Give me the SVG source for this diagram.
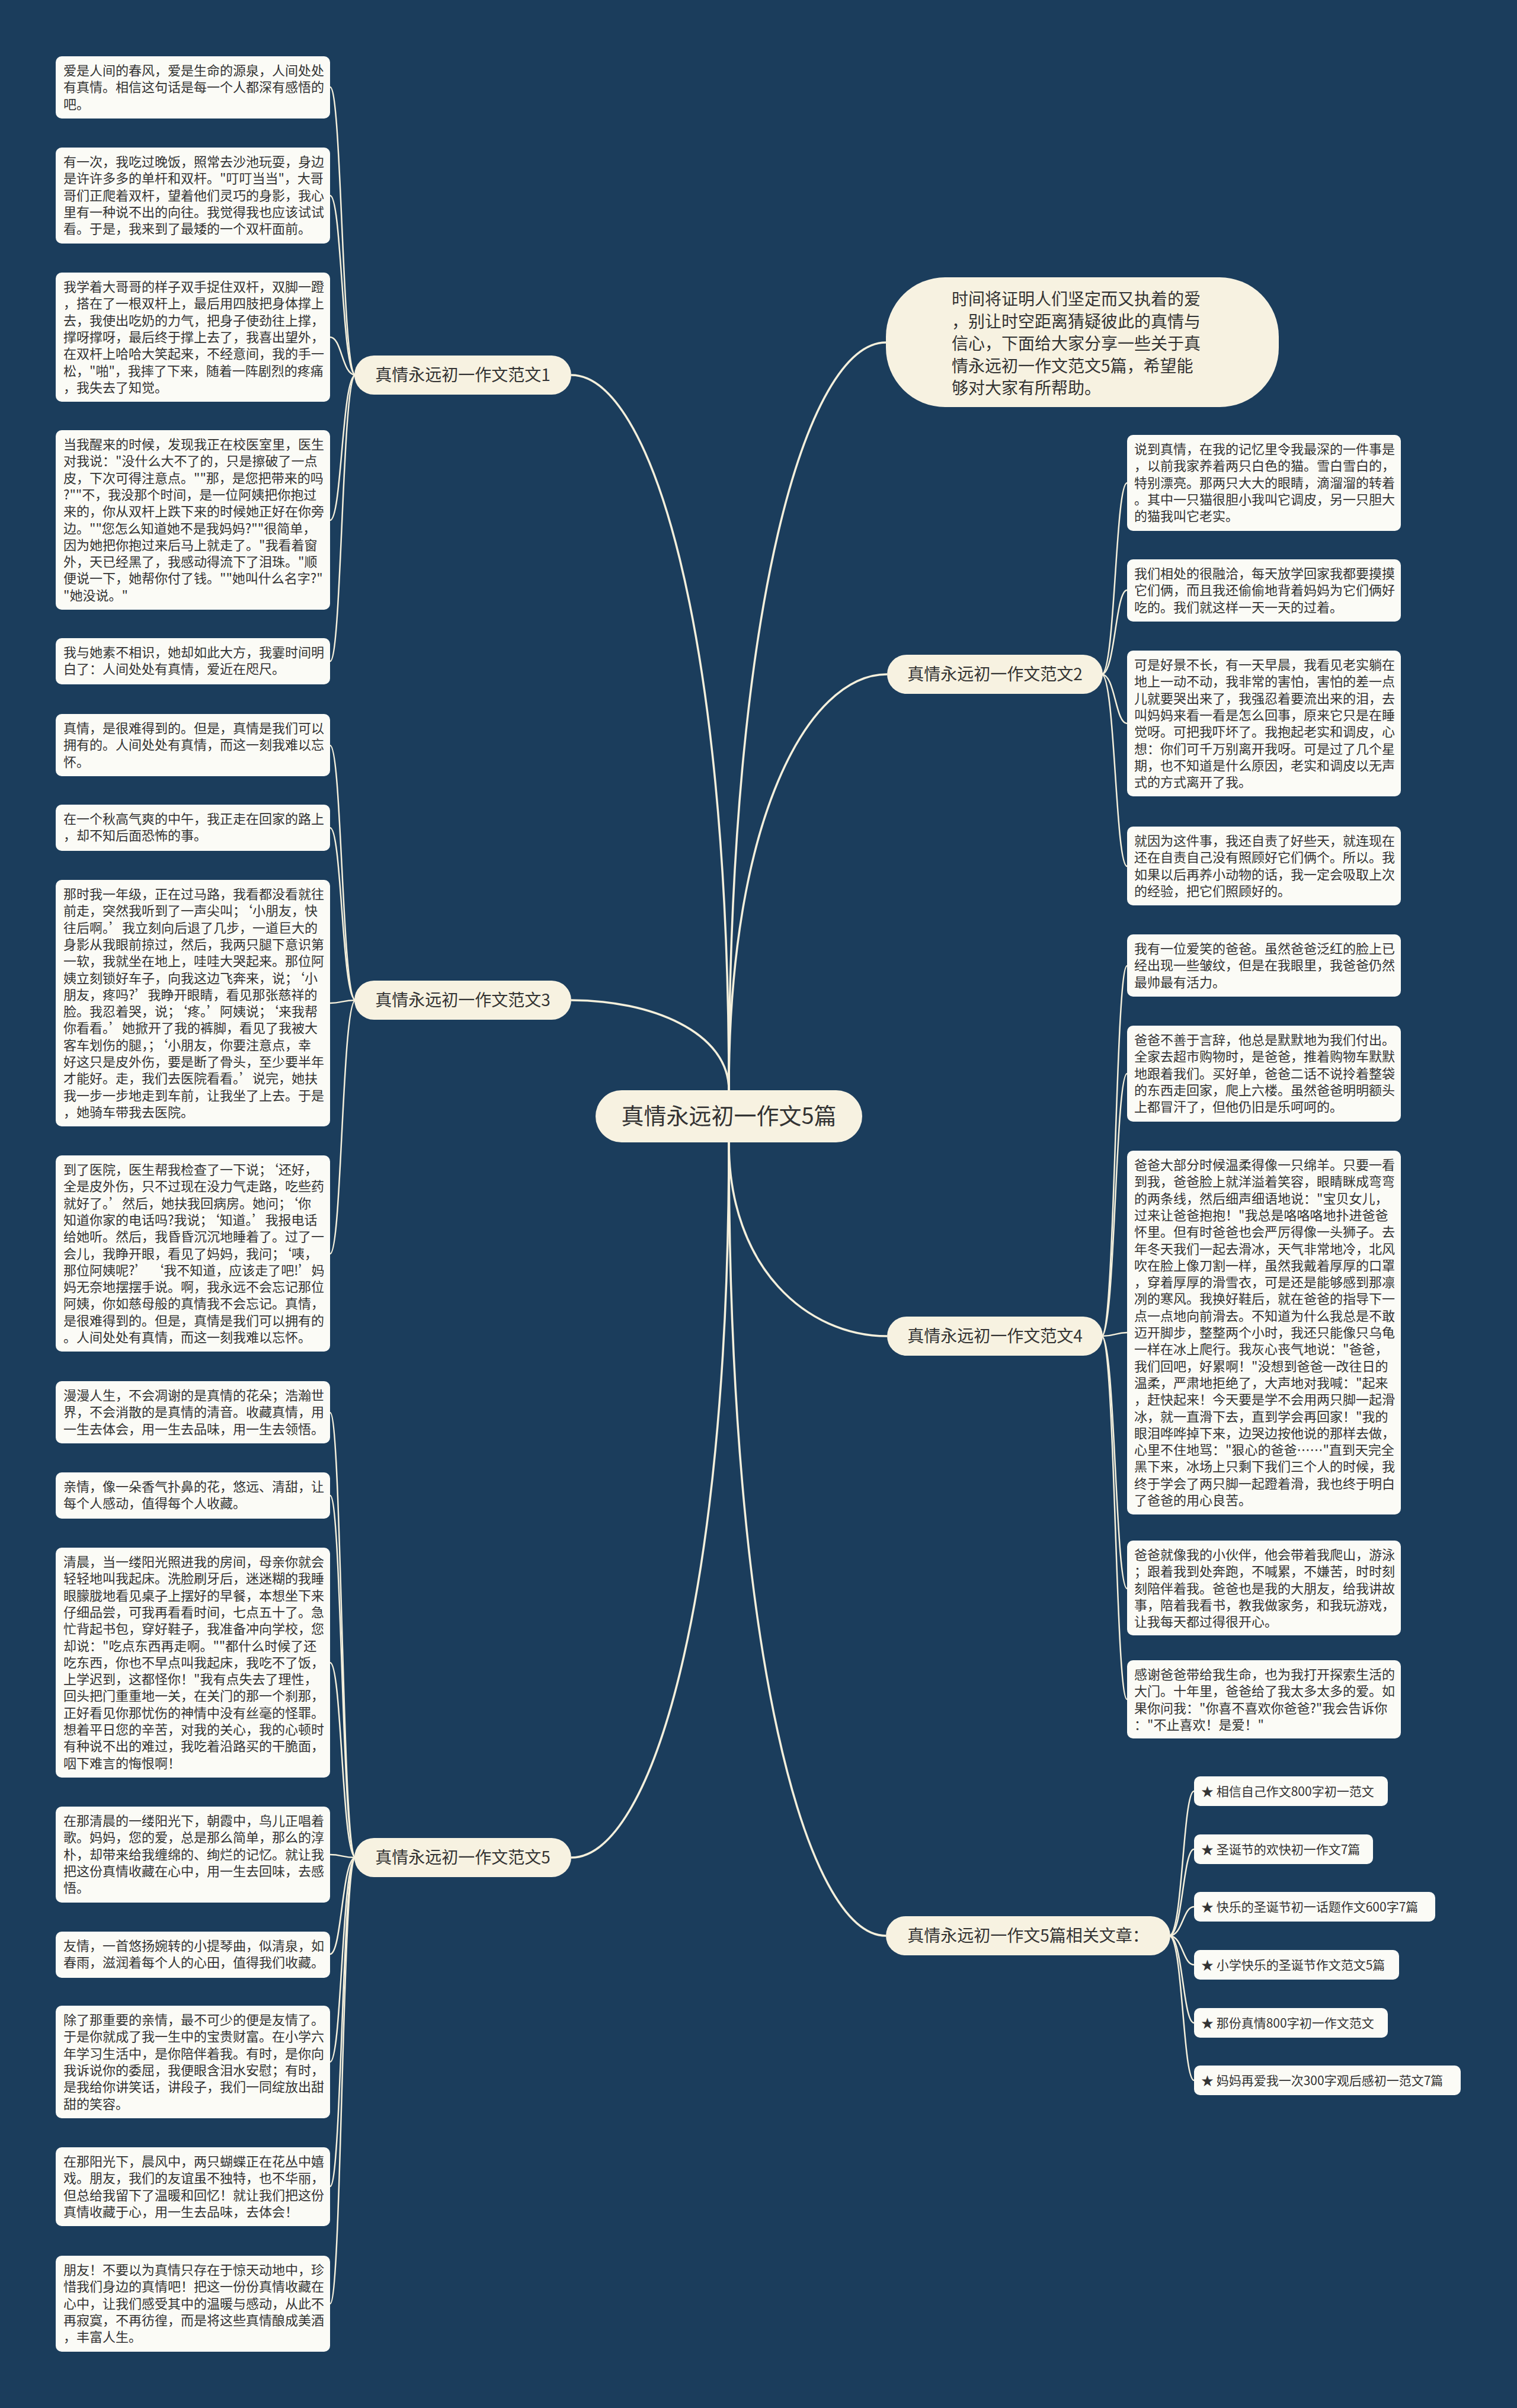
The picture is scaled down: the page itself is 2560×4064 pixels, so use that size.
<svg xmlns="http://www.w3.org/2000/svg" width="2560" height="4064" viewBox="0 0 2560 4064">
<style>
.bg{fill:#1b3d5c}
.leaf{fill:#fbfbf6}
.pill{fill:#f7f2e1}
.lt{font-family:"Noto Sans CJK SC","Noto Sans",sans-serif;font-size:22px;fill:#333333}
.bt{font-family:"Noto Sans CJK SC","Noto Sans",sans-serif;font-size:28px;fill:#333333}
.ct{font-family:"Noto Sans CJK SC","Noto Sans",sans-serif;font-size:38px;fill:#333333}
.rt{font-family:"Noto Sans CJK SC","Noto Sans",sans-serif;font-size:21px;fill:#333333}
.main{fill:none;stroke:#f5f0dc;stroke-width:3.5}
.sub{fill:none;stroke:#f5f0dc;stroke-width:2.5}
</style>
<rect class="bg" x="0" y="0" width="2560" height="4064"/>

<g id="connectors">
  <path class="main" d="M964 633 C1097 633,1230 1056,1230 1840"/>
  <path class="main" d="M964 1688 C1097 1688,1230 1741,1230 1840"/>
  <path class="main" d="M964 3135 C1097 3135,1230 2712,1230 1928"/>
  <path class="main" d="M1495 578 C1362 578,1230 1020,1230 1840"/>
  <path class="main" d="M1497 1138 C1363 1138,1230 1384,1230 1840"/>
  <path class="main" d="M1497 2255 C1363 2255,1230 2141,1230 1928"/>
  <path class="main" d="M1495 3267 C1362 3267,1230 2798,1230 1928"/>
  <!-- branch 1 leaves -->
  <path class="sub" d="M600 633 C577 633,577 147,557 147"/>
  <path class="sub" d="M600 633 C577 633,577 330,557 330"/>
  <path class="sub" d="M600 633 C577 633,577 569,557 569"/>
  <path class="sub" d="M600 633 C577 633,577 878,557 878"/>
  <path class="sub" d="M600 633 C577 633,577 1116,557 1116"/>
  <!-- branch 3 leaves -->
  <path class="sub" d="M600 1688 C577 1688,577 1258,557 1258"/>
  <path class="sub" d="M600 1688 C577 1688,577 1397,557 1397"/>
  <path class="sub" d="M600 1688 C577 1688,577 1693,557 1693"/>
  <path class="sub" d="M600 1688 C577 1688,577 2116,557 2116"/>
  <!-- branch 5 leaves -->
  <path class="sub" d="M600 3135 C577 3135,577 2384,557 2384"/>
  <path class="sub" d="M600 3135 C577 3135,577 2524,557 2524"/>
  <path class="sub" d="M600 3135 C577 3135,577 2806,557 2806"/>
  <path class="sub" d="M600 3135 C577 3135,577 3130,557 3130"/>
  <path class="sub" d="M600 3135 C577 3135,577 3298,557 3298"/>
  <path class="sub" d="M600 3135 C577 3135,577 3480,557 3480"/>
  <path class="sub" d="M600 3135 C577 3135,577 3690,557 3690"/>
  <path class="sub" d="M600 3135 C577 3135,577 3888,557 3888"/>
  <!-- branch 2 leaves -->
  <path class="sub" d="M1859 1138 C1882 1138,1882 815,1902 815"/>
  <path class="sub" d="M1859 1138 C1882 1138,1882 996,1902 996"/>
  <path class="sub" d="M1859 1138 C1882 1138,1882 1221,1902 1221"/>
  <path class="sub" d="M1859 1138 C1882 1138,1882 1462,1902 1462"/>
  <!-- branch 4 leaves -->
  <path class="sub" d="M1859 2255 C1882 2255,1882 1630,1902 1630"/>
  <path class="sub" d="M1859 2255 C1882 2255,1882 1812,1902 1812"/>
  <path class="sub" d="M1859 2255 C1882 2255,1882 2249,1902 2249"/>
  <path class="sub" d="M1859 2255 C1882 2255,1882 2681,1902 2681"/>
  <path class="sub" d="M1859 2255 C1882 2255,1882 2868,1902 2868"/>
  <!-- related leaves -->
  <path class="sub" d="M1973 3267 C1996 3267,1996 3023,2015 3023"/>
  <path class="sub" d="M1973 3267 C1996 3267,1996 3121,2015 3121"/>
  <path class="sub" d="M1973 3267 C1996 3267,1996 3218,2015 3218"/>
  <path class="sub" d="M1973 3267 C1996 3267,1996 3316,2015 3316"/>
  <path class="sub" d="M1973 3267 C1996 3267,1996 3414,2015 3414"/>
  <path class="sub" d="M1973 3267 C1996 3267,1996 3511,2015 3511"/>
</g>

<g id="center">
  <rect class="pill" x="1005" y="1840" width="450" height="88" rx="44"/>
  <text class="ct" x="1230" y="1897" text-anchor="middle">真情永远初一作文5篇</text>
</g>

<g id="intro">
  <rect class="pill" x="1495" y="468" width="663" height="219" rx="100"/>
  <text class="bt" x="1606" y="515"><tspan x="1606">时间将证明人们坚定而又执着的爱</tspan><tspan x="1606" dy="37.5">，别让时空距离猜疑彼此的真情与</tspan><tspan x="1606" dy="37.5">信心，下面给大家分享一些关于真</tspan><tspan x="1606" dy="37.5">情永远初一作文范文5篇，希望能</tspan><tspan x="1606" dy="37.5">够对大家有所帮助。</tspan></text>
</g>

<g id="branch1">
  <rect class="pill" x="598" y="600" width="366" height="66" rx="33"/>
  <text class="bt" x="781" y="643" text-anchor="middle">真情永远初一作文范文1</text>
</g>
<g id="branch2">
  <rect class="pill" x="1497" y="1105" width="364" height="66" rx="33"/>
  <text class="bt" x="1679" y="1148" text-anchor="middle">真情永远初一作文范文2</text>
</g>
<g id="branch3">
  <rect class="pill" x="598" y="1655" width="366" height="66" rx="33"/>
  <text class="bt" x="781" y="1698" text-anchor="middle">真情永远初一作文范文3</text>
</g>
<g id="branch4">
  <rect class="pill" x="1497" y="2222" width="364" height="66" rx="33"/>
  <text class="bt" x="1679" y="2265" text-anchor="middle">真情永远初一作文范文4</text>
</g>
<g id="branch5">
  <rect class="pill" x="598" y="3102" width="366" height="66" rx="33"/>
  <text class="bt" x="781" y="3145" text-anchor="middle">真情永远初一作文范文5</text>
</g>
<g id="branch-related">
  <rect class="pill" x="1495" y="3234" width="480" height="66" rx="33"/>
  <text class="bt" x="1735" y="3277" text-anchor="middle">真情永远初一作文5篇相关文章：</text>
</g>

<!-- Left leaves: branch 1 -->
<g id="a1">
  <rect class="leaf" x="94" y="95" width="463" height="105" rx="10"/>
  <text class="lt" x="107" y="127"><tspan x="107">爱是人间的春风，爱是生命的源泉，人间处处</tspan><tspan x="107" dy="28.3">有真情。相信这句话是每一个人都深有感悟的</tspan><tspan x="107" dy="28.3">吧。</tspan></text>
</g>
<g id="a2">
  <rect class="leaf" x="94" y="249" width="463" height="162" rx="10"/>
  <text class="lt" x="107" y="281"><tspan x="107">有一次，我吃过晚饭，照常去沙池玩耍，身边</tspan><tspan x="107" dy="28.3">是许许多多的单杆和双杆。"叮叮当当"，大哥</tspan><tspan x="107" dy="28.3">哥们正爬着双杆，望着他们灵巧的身影，我心</tspan><tspan x="107" dy="28.3">里有一种说不出的向往。我觉得我也应该试试</tspan><tspan x="107" dy="28.3">看。于是，我来到了最矮的一个双杆面前。</tspan></text>
</g>
<g id="a3">
  <rect class="leaf" x="94" y="460" width="463" height="218" rx="10"/>
  <text class="lt" x="107" y="492"><tspan x="107">我学着大哥哥的样子双手捉住双杆，双脚一蹬</tspan><tspan x="107" dy="28.3">，搭在了一根双杆上，最后用四肢把身体撑上</tspan><tspan x="107" dy="28.3">去，我使出吃奶的力气，把身子使劲往上撑，</tspan><tspan x="107" dy="28.3">撑呀撑呀，最后终于撑上去了，我喜出望外，</tspan><tspan x="107" dy="28.3">在双杆上哈哈大笑起来，不经意间，我的手一</tspan><tspan x="107" dy="28.3">松，"啪"，我摔了下来，随着一阵剧烈的疼痛</tspan><tspan x="107" dy="28.3">，我失去了知觉。</tspan></text>
</g>
<g id="a4">
  <rect class="leaf" x="94" y="726" width="463" height="303" rx="10"/>
  <text class="lt" x="107" y="758"><tspan x="107">当我醒来的时候，发现我正在校医室里，医生</tspan><tspan x="107" dy="28.3">对我说："没什么大不了的，只是擦破了一点</tspan><tspan x="107" dy="28.3">皮，下次可得注意点。""那，是您把带来的吗</tspan><tspan x="107" dy="28.3">?""不，我没那个时间，是一位阿姨把你抱过</tspan><tspan x="107" dy="28.3">来的，你从双杆上跌下来的时候她正好在你旁</tspan><tspan x="107" dy="28.3">边。""您怎么知道她不是我妈妈?""很简单，</tspan><tspan x="107" dy="28.3">因为她把你抱过来后马上就走了。"我看着窗</tspan><tspan x="107" dy="28.3">外，天已经黑了，我感动得流下了泪珠。"顺</tspan><tspan x="107" dy="28.3">便说一下，她帮你付了钱。""她叫什么名字?"</tspan><tspan x="107" dy="28.3">"她没说。"</tspan></text>
</g>
<g id="a5">
  <rect class="leaf" x="94" y="1077" width="463" height="78" rx="10"/>
  <text class="lt" x="107" y="1109"><tspan x="107">我与她素不相识，她却如此大方，我霎时间明</tspan><tspan x="107" dy="28.3">白了：人间处处有真情，爱近在咫尺。</tspan></text>
</g>

<!-- Left leaves: branch 3 -->
<g id="b1">
  <rect class="leaf" x="94" y="1205" width="463" height="105" rx="10"/>
  <text class="lt" x="107" y="1237"><tspan x="107">真情，是很难得到的。但是，真情是我们可以</tspan><tspan x="107" dy="28.3">拥有的。人间处处有真情，而这一刻我难以忘</tspan><tspan x="107" dy="28.3">怀。</tspan></text>
</g>
<g id="b2">
  <rect class="leaf" x="94" y="1358" width="463" height="78" rx="10"/>
  <text class="lt" x="107" y="1390"><tspan x="107">在一个秋高气爽的中午，我正走在回家的路上</tspan><tspan x="107" dy="28.3">，却不知后面恐怖的事。</tspan></text>
</g>
<g id="b3">
  <rect class="leaf" x="94" y="1485" width="463" height="416" rx="10"/>
  <text class="lt" x="107" y="1517"><tspan x="107">那时我一年级，正在过马路，我看都没看就往</tspan><tspan x="107" dy="28.3">前走，突然我听到了一声尖叫；‘小朋友，快</tspan><tspan x="107" dy="28.3">往后啊。’我立刻向后退了几步，一道巨大的</tspan><tspan x="107" dy="28.3">身影从我眼前掠过，然后，我两只腿下意识第</tspan><tspan x="107" dy="28.3">一软，我就坐在地上，哇哇大哭起来。那位阿</tspan><tspan x="107" dy="28.3">姨立刻锁好车子，向我这边飞奔来，说；‘小</tspan><tspan x="107" dy="28.3">朋友，疼吗?’我睁开眼睛，看见那张慈祥的</tspan><tspan x="107" dy="28.3">脸。我忍着哭，说；‘疼。’阿姨说；‘来我帮</tspan><tspan x="107" dy="28.3">你看看。’她掀开了我的裤脚，看见了我被大</tspan><tspan x="107" dy="28.3">客车划伤的腿，；‘小朋友，你要注意点，幸</tspan><tspan x="107" dy="28.3">好这只是皮外伤，要是断了骨头，至少要半年</tspan><tspan x="107" dy="28.3">才能好。走，我们去医院看看。’说完，她扶</tspan><tspan x="107" dy="28.3">我一步一步地走到车前，让我坐了上去。于是</tspan><tspan x="107" dy="28.3">，她骑车带我去医院。</tspan></text>
</g>
<g id="b4">
  <rect class="leaf" x="94" y="1950" width="463" height="331" rx="10"/>
  <text class="lt" x="107" y="1982"><tspan x="107">到了医院，医生帮我检查了一下说；‘还好，</tspan><tspan x="107" dy="28.3">全是皮外伤，只不过现在没力气走路，吃些药</tspan><tspan x="107" dy="28.3">就好了。’然后，她扶我回病房。她问；‘你</tspan><tspan x="107" dy="28.3">知道你家的电话吗?我说；‘知道。’我报电话</tspan><tspan x="107" dy="28.3">给她听。然后，我昏昏沉沉地睡着了。过了一</tspan><tspan x="107" dy="28.3">会儿，我睁开眼，看见了妈妈，我问；‘咦，</tspan><tspan x="107" dy="28.3">那位阿姨呢?’ ‘我不知道，应该走了吧!’妈</tspan><tspan x="107" dy="28.3">妈无奈地摆摆手说。啊，我永远不会忘记那位</tspan><tspan x="107" dy="28.3">阿姨，你如慈母般的真情我不会忘记。真情，</tspan><tspan x="107" dy="28.3">是很难得到的。但是，真情是我们可以拥有的</tspan><tspan x="107" dy="28.3">。人间处处有真情，而这一刻我难以忘怀。</tspan></text>
</g>

<!-- Left leaves: branch 5 -->
<g id="c1">
  <rect class="leaf" x="94" y="2331" width="463" height="105" rx="10"/>
  <text class="lt" x="107" y="2363"><tspan x="107">漫漫人生，不会凋谢的是真情的花朵；浩瀚世</tspan><tspan x="107" dy="28.3">界，不会消散的是真情的清音。收藏真情，用</tspan><tspan x="107" dy="28.3">一生去体会，用一生去品味，用一生去领悟。</tspan></text>
</g>
<g id="c2">
  <rect class="leaf" x="94" y="2485" width="463" height="78" rx="10"/>
  <text class="lt" x="107" y="2517"><tspan x="107">亲情，像一朵香气扑鼻的花，悠远、清甜，让</tspan><tspan x="107" dy="28.3">每个人感动，值得每个人收藏。</tspan></text>
</g>
<g id="c3">
  <rect class="leaf" x="94" y="2612" width="463" height="388" rx="10"/>
  <text class="lt" x="107" y="2644"><tspan x="107">清晨，当一缕阳光照进我的房间，母亲你就会</tspan><tspan x="107" dy="28.3">轻轻地叫我起床。洗脸刷牙后，迷迷糊的我睡</tspan><tspan x="107" dy="28.3">眼朦胧地看见桌子上摆好的早餐，本想坐下来</tspan><tspan x="107" dy="28.3">仔细品尝，可我再看看时间，七点五十了。急</tspan><tspan x="107" dy="28.3">忙背起书包，穿好鞋子，我准备冲向学校，您</tspan><tspan x="107" dy="28.3">却说："吃点东西再走啊。""都什么时候了还</tspan><tspan x="107" dy="28.3">吃东西，你也不早点叫我起床，我吃不了饭，</tspan><tspan x="107" dy="28.3">上学迟到，这都怪你！"我有点失去了理性，</tspan><tspan x="107" dy="28.3">回头把门重重地一关，在关门的那一个刹那，</tspan><tspan x="107" dy="28.3">正好看见你那忧伤的神情中没有丝毫的怪罪。</tspan><tspan x="107" dy="28.3">想着平日您的辛苦，对我的关心，我的心顿时</tspan><tspan x="107" dy="28.3">有种说不出的难过，我吃着沿路买的干脆面，</tspan><tspan x="107" dy="28.3">咽下难言的悔恨啊！</tspan></text>
</g>
<g id="c4">
  <rect class="leaf" x="94" y="3049" width="463" height="162" rx="10"/>
  <text class="lt" x="107" y="3081"><tspan x="107">在那清晨的一缕阳光下，朝霞中，鸟儿正唱着</tspan><tspan x="107" dy="28.3">歌。妈妈，您的爱，总是那么简单，那么的淳</tspan><tspan x="107" dy="28.3">朴，却带来给我缠绵的、绚烂的记忆。就让我</tspan><tspan x="107" dy="28.3">把这份真情收藏在心中，用一生去回味，去感</tspan><tspan x="107" dy="28.3">悟。</tspan></text>
</g>
<g id="c5">
  <rect class="leaf" x="94" y="3260" width="463" height="78" rx="10"/>
  <text class="lt" x="107" y="3292"><tspan x="107">友情，一首悠扬婉转的小提琴曲，似清泉，如</tspan><tspan x="107" dy="28.3">春雨，滋润着每个人的心田，值得我们收藏。</tspan></text>
</g>
<g id="c6">
  <rect class="leaf" x="94" y="3385" width="463" height="190" rx="10"/>
  <text class="lt" x="107" y="3417"><tspan x="107">除了那重要的亲情，最不可少的便是友情了。</tspan><tspan x="107" dy="28.3">于是你就成了我一生中的宝贵财富。在小学六</tspan><tspan x="107" dy="28.3">年学习生活中，是你陪伴着我。有时，是你向</tspan><tspan x="107" dy="28.3">我诉说你的委屈，我便眼含泪水安慰；有时，</tspan><tspan x="107" dy="28.3">是我给你讲笑话，讲段子，我们一同绽放出甜</tspan><tspan x="107" dy="28.3">甜的笑容。</tspan></text>
</g>
<g id="c7">
  <rect class="leaf" x="94" y="3624" width="463" height="133" rx="10"/>
  <text class="lt" x="107" y="3656"><tspan x="107">在那阳光下，晨风中，两只蝴蝶正在花丛中嬉</tspan><tspan x="107" dy="28.3">戏。朋友，我们的友谊虽不独特，也不华丽，</tspan><tspan x="107" dy="28.3">但总给我留下了温暖和回忆！就让我们把这份</tspan><tspan x="107" dy="28.3">真情收藏于心，用一生去品味，去体会！</tspan></text>
</g>
<g id="c8">
  <rect class="leaf" x="94" y="3807" width="463" height="162" rx="10"/>
  <text class="lt" x="107" y="3839"><tspan x="107">朋友！不要以为真情只存在于惊天动地中，珍</tspan><tspan x="107" dy="28.3">惜我们身边的真情吧！把这一份份真情收藏在</tspan><tspan x="107" dy="28.3">心中，让我们感受其中的温暖与感动，从此不</tspan><tspan x="107" dy="28.3">再寂寞，不再彷徨，而是将这些真情酿成美酒</tspan><tspan x="107" dy="28.3">，丰富人生。</tspan></text>
</g>

<!-- Right leaves: branch 2 -->
<g id="r1">
  <rect class="leaf" x="1902" y="734" width="462" height="162" rx="10"/>
  <text class="lt" x="1914" y="766"><tspan x="1914">说到真情，在我的记忆里令我最深的一件事是</tspan><tspan x="1914" dy="28.3">，以前我家养着两只白色的猫。雪白雪白的，</tspan><tspan x="1914" dy="28.3">特别漂亮。那两只大大的眼睛，滴溜溜的转着</tspan><tspan x="1914" dy="28.3">。其中一只猫很胆小我叫它调皮，另一只胆大</tspan><tspan x="1914" dy="28.3">的猫我叫它老实。</tspan></text>
</g>
<g id="r2">
  <rect class="leaf" x="1902" y="944" width="462" height="105" rx="10"/>
  <text class="lt" x="1914" y="976"><tspan x="1914">我们相处的很融洽，每天放学回家我都要摸摸</tspan><tspan x="1914" dy="28.3">它们俩，而且我还偷偷地背着妈妈为它们俩好</tspan><tspan x="1914" dy="28.3">吃的。我们就这样一天一天的过着。</tspan></text>
</g>
<g id="r3">
  <rect class="leaf" x="1902" y="1098" width="462" height="246" rx="10"/>
  <text class="lt" x="1914" y="1130"><tspan x="1914">可是好景不长，有一天早晨，我看见老实躺在</tspan><tspan x="1914" dy="28.3">地上一动不动，我非常的害怕，害怕的差一点</tspan><tspan x="1914" dy="28.3">儿就要哭出来了，我强忍着要流出来的泪，去</tspan><tspan x="1914" dy="28.3">叫妈妈来看一看是怎么回事，原来它只是在睡</tspan><tspan x="1914" dy="28.3">觉呀。可把我吓坏了。我抱起老实和调皮，心</tspan><tspan x="1914" dy="28.3">想：你们可千万别离开我呀。可是过了几个星</tspan><tspan x="1914" dy="28.3">期，也不知道是什么原因，老实和调皮以无声</tspan><tspan x="1914" dy="28.3">式的方式离开了我。</tspan></text>
</g>
<g id="r4">
  <rect class="leaf" x="1902" y="1395" width="462" height="133" rx="10"/>
  <text class="lt" x="1914" y="1427"><tspan x="1914">就因为这件事，我还自责了好些天，就连现在</tspan><tspan x="1914" dy="28.3">还在自责自己没有照顾好它们俩个。所以。我</tspan><tspan x="1914" dy="28.3">如果以后再养小动物的话，我一定会吸取上次</tspan><tspan x="1914" dy="28.3">的经验，把它们照顾好的。</tspan></text>
</g>

<!-- Right leaves: branch 4 -->
<g id="r5">
  <rect class="leaf" x="1902" y="1577" width="462" height="105" rx="10"/>
  <text class="lt" x="1914" y="1609"><tspan x="1914">我有一位爱笑的爸爸。虽然爸爸泛红的脸上已</tspan><tspan x="1914" dy="28.3">经出现一些皱纹，但是在我眼里，我爸爸仍然</tspan><tspan x="1914" dy="28.3">最帅最有活力。</tspan></text>
</g>
<g id="r6">
  <rect class="leaf" x="1902" y="1731" width="462" height="162" rx="10"/>
  <text class="lt" x="1914" y="1763"><tspan x="1914">爸爸不善于言辞，他总是默默地为我们付出。</tspan><tspan x="1914" dy="28.3">全家去超市购物时，是爸爸，推着购物车默默</tspan><tspan x="1914" dy="28.3">地跟着我们。买好单，爸爸二话不说拎着整袋</tspan><tspan x="1914" dy="28.3">的东西走回家，爬上六楼。虽然爸爸明明额头</tspan><tspan x="1914" dy="28.3">上都冒汗了，但他仍旧是乐呵呵的。</tspan></text>
</g>
<g id="r7">
  <rect class="leaf" x="1902" y="1942" width="462" height="614" rx="10"/>
  <text class="lt" x="1914" y="1974"><tspan x="1914">爸爸大部分时候温柔得像一只绵羊。只要一看</tspan><tspan x="1914" dy="28.3">到我，爸爸脸上就洋溢着笑容，眼睛眯成弯弯</tspan><tspan x="1914" dy="28.3">的两条线，然后细声细语地说："宝贝女儿，</tspan><tspan x="1914" dy="28.3">过来让爸爸抱抱！"我总是咯咯咯地扑进爸爸</tspan><tspan x="1914" dy="28.3">怀里。但有时爸爸也会严厉得像一头狮子。去</tspan><tspan x="1914" dy="28.3">年冬天我们一起去滑冰，天气非常地冷，北风</tspan><tspan x="1914" dy="28.3">吹在脸上像刀割一样，虽然我戴着厚厚的口罩</tspan><tspan x="1914" dy="28.3">，穿着厚厚的滑雪衣，可是还是能够感到那凛</tspan><tspan x="1914" dy="28.3">冽的寒风。我换好鞋后，就在爸爸的指导下一</tspan><tspan x="1914" dy="28.3">点一点地向前滑去。不知道为什么我总是不敢</tspan><tspan x="1914" dy="28.3">迈开脚步，整整两个小时，我还只能像只乌龟</tspan><tspan x="1914" dy="28.3">一样在冰上爬行。我灰心丧气地说："爸爸，</tspan><tspan x="1914" dy="28.3">我们回吧，好累啊！"没想到爸爸一改往日的</tspan><tspan x="1914" dy="28.3">温柔，严肃地拒绝了，大声地对我喊："起来</tspan><tspan x="1914" dy="28.3">，赶快起来！今天要是学不会用两只脚一起滑</tspan><tspan x="1914" dy="28.3">冰，就一直滑下去，直到学会再回家！"我的</tspan><tspan x="1914" dy="28.3">眼泪哗哗掉下来，边哭边按他说的那样去做，</tspan><tspan x="1914" dy="28.3">心里不住地骂："狠心的爸爸……"直到天完全</tspan><tspan x="1914" dy="28.3">黑下来，冰场上只剩下我们三个人的时候，我</tspan><tspan x="1914" dy="28.3">终于学会了两只脚一起蹬着滑，我也终于明白</tspan><tspan x="1914" dy="28.3">了爸爸的用心良苦。</tspan></text>
</g>
<g id="r8">
  <rect class="leaf" x="1902" y="2600" width="462" height="160" rx="10"/>
  <text class="lt" x="1914" y="2632"><tspan x="1914">爸爸就像我的小伙伴，他会带着我爬山，游泳</tspan><tspan x="1914" dy="28.3">；跟着我到处奔跑，不喊累，不嫌苦，时时刻</tspan><tspan x="1914" dy="28.3">刻陪伴着我。爸爸也是我的大朋友，给我讲故</tspan><tspan x="1914" dy="28.3">事，陪着我看书，教我做家务，和我玩游戏，</tspan><tspan x="1914" dy="28.3">让我每天都过得很开心。</tspan></text>
</g>
<g id="r9">
  <rect class="leaf" x="1902" y="2802" width="462" height="132" rx="10"/>
  <text class="lt" x="1914" y="2834"><tspan x="1914">感谢爸爸带给我生命，也为我打开探索生活的</tspan><tspan x="1914" dy="28.3">大门。十年里，爸爸给了我太多太多的爱。如</tspan><tspan x="1914" dy="28.3">果你问我："你喜不喜欢你爸爸?"我会告诉你</tspan><tspan x="1914" dy="28.3">："不止喜欢！是爱！"</tspan></text>
</g>

<!-- Related articles -->
<g id="l1">
  <rect class="leaf" x="2015" y="2998" width="327" height="50" rx="10"/>
  <text class="rt" x="2027" y="3031">★ 相信自己作文800字初一范文</text>
</g>
<g id="l2">
  <rect class="leaf" x="2015" y="3096" width="302" height="50" rx="10"/>
  <text class="rt" x="2027" y="3129">★ 圣诞节的欢快初一作文7篇</text>
</g>
<g id="l3">
  <rect class="leaf" x="2015" y="3193" width="407" height="50" rx="10"/>
  <text class="rt" x="2027" y="3226">★ 快乐的圣诞节初一话题作文600字7篇</text>
</g>
<g id="l4">
  <rect class="leaf" x="2015" y="3291" width="346" height="50" rx="10"/>
  <text class="rt" x="2027" y="3324">★ 小学快乐的圣诞节作文范文5篇</text>
</g>
<g id="l5">
  <rect class="leaf" x="2015" y="3389" width="327" height="50" rx="10"/>
  <text class="rt" x="2027" y="3422">★ 那份真情800字初一作文范文</text>
</g>
<g id="l6">
  <rect class="leaf" x="2015" y="3486" width="450" height="50" rx="10"/>
  <text class="rt" x="2027" y="3519">★ 妈妈再爱我一次300字观后感初一范文7篇</text>
</g>
</svg>
